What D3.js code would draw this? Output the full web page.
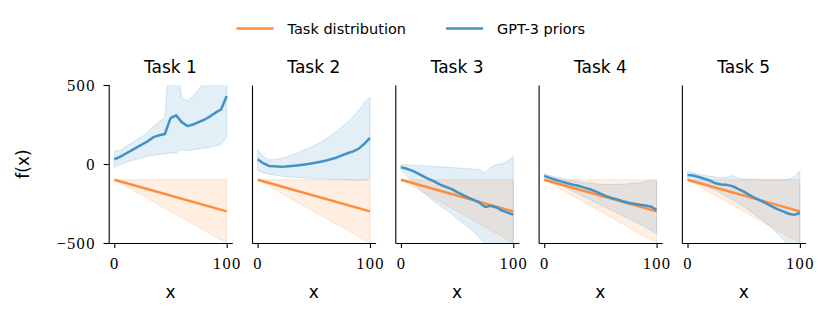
<!DOCTYPE html>
<html>
<head>
<meta charset="utf-8">
<script src="https://cdn.jsdelivr.net/npm/d3@7"></script>
<style>
  body { margin: 0; background: #fff; }
  svg { display: block; }
  .tick text { font-family: 'Liberation Serif', serif; font-size: 16.5px; letter-spacing: 1.3px; fill: #000; }
  .domain, .tick line { stroke: #000; stroke-width: 1.1; }
</style>
</head>
<body>
<svg id="canvas" width="830" height="320"></svg>
<script>
let taskNames = ['Task 1', 'Task 2', 'Task 3', 'Task 4', 'Task 5'];
let seriesNames = ['Task distribution', 'GPT-3 priors'];
let xTicks = [0, 100];
let yTicks = [-500, 0, 500];

// task distribution (same for every task)
let taskX = [0, 100];
let taskMean = [-100, -300];
let taskHi = [-100, -100];
let taskLo = [-100, -500];

// GPT-3 prior samples, read at x = 0, 5, ..., 100
let priorX = [0, 5, 10, 15, 20, 25, 30, 35, 40, 45, 50, 55, 60, 65, 70, 75, 80, 85, 90, 95, 100];

let mean1 = [30, 45, 65, 85, 105, 125, 145, 170, 182, 190, 290, 308, 265, 240, 250, 265, 280, 300, 325, 345, 430];
let hi1 = [80, 85, 110, 130, 155, 175, 200, 240, 270, 290, 750, 650, 420, 400, 430, 470, 520, 560, 600, 640, 680];
let lo1 = [-20, -5, 10, 20, 30, 40, 50, 55, 60, 65, 70, 70, 90, 85, 90, 95, 100, 105, 115, 125, 170];

let mean2 = [30, 5, -12, -15, -17, -16, -13, -9, -5, 0, 6, 13, 20, 30, 40, 55, 68, 80, 97, 128, 165];
let hi2 = [90, 50, 25, 28, 35, 45, 55, 70, 85, 100, 115, 135, 155, 180, 205, 235, 265, 300, 340, 390, 420];
let lo2 = [-40, -55, -65, -70, -75, -80, -83, -86, -88, -90, -92, -94, -95, -96, -97, -98, -100, -102, -105, -100, -95];

let mean3 = [-20, -30, -42, -60, -78, -95, -112, -130, -145, -158, -178, -195, -213, -228, -245, -272, -265, -275, -295, -308, -320];
let hi3 = [-5, -5, -8, -10, -12, -14, -16, -18, -20, -22, -25, -28, -30, -32, -35, -55, -20, -5, 0, 20, 45];
let lo3 = [-35, -75, -110, -145, -180, -210, -240, -265, -290, -315, -345, -375, -400, -430, -470, -505, -540, -570, -600, -630, -650];

let mean4 = [-75, -88, -100, -110, -120, -130, -138, -148, -158, -172, -188, -203, -215, -225, -236, -245, -252, -258, -263, -270, -292];
let hi4 = [-62, -72, -82, -90, -98, -105, -110, -115, -120, -125, -128, -130, -130, -130, -128, -125, -122, -118, -110, -105, -110];
let lo4 = [-90, -105, -120, -135, -152, -170, -187, -205, -222, -240, -258, -276, -293, -310, -328, -346, -363, -380, -398, -420, -440];

let mean5 = [-70, -73, -82, -93, -105, -122, -130, -132, -140, -158, -175, -195, -215, -232, -250, -268, -285, -300, -315, -322, -310];
let hi5 = [-48, -55, -65, -72, -78, -82, -85, -85, -72, -90, -95, -97, -98, -99, -100, -100, -100, -100, -98, -80, -45];
let lo5 = [-90, -105, -120, -135, -150, -168, -185, -205, -225, -248, -270, -295, -320, -345, -375, -405, -440, -475, -510, -540, -560];

let priorMeans = [mean1, mean2, mean3, mean4, mean5];
let priorHis = [hi1, hi2, hi3, hi4, hi5];
let priorLos = [lo1, lo2, lo3, lo4, lo5];

let orange = '#fd8d3c';
let blue = '#4292c6';

let canvas = d3.select('#canvas');

let panelLeft = 108.7;
let panelStep = 143.3;
let panelTop = 85;
let panelW = 123.6;
let panelH = 158;

let x = d3.scaleLinear().domain([-5, 105]).range([0, panelW]);
let y = d3.scaleLinear().domain([-500, 500]).range([panelH, 0]);

let drawPanel = (i) => {
  let g = canvas.append('g')
    .attr('transform', 'translate(' + (panelLeft + i * panelStep) + ',' + panelTop + ')');

  g.append('clipPath')
    .attr('id', 'clip' + i)
    .append('rect')
    .attr('width', panelW)
    .attr('height', panelH);

  let plot = g.append('g').attr('clip-path', 'url(#clip' + i + ')');

  let taskRows = taskX.map((v, k) => ({ x: v, m: taskMean[k], hi: taskHi[k], lo: taskLo[k] }));
  let priorRows = priorX.map((v, k) => ({ x: v, m: priorMeans[i][k], hi: priorHis[i][k], lo: priorLos[i][k] }));

  let band = d3.area().x((d) => x(d.x)).y0((d) => y(d.lo)).y1((d) => y(d.hi));
  let line = d3.line().x((d) => x(d.x)).y((d) => y(d.m));

  plot.append('path')
    .attr('d', band(taskRows))
    .attr('fill', orange)
    .attr('fill-opacity', 0.15)
    .attr('stroke', orange)
    .attr('stroke-opacity', 0.2)
    .attr('stroke-width', 1);

  plot.append('path')
    .attr('d', band(priorRows))
    .attr('fill', blue)
    .attr('fill-opacity', 0.15)
    .attr('stroke', blue)
    .attr('stroke-opacity', 0.2)
    .attr('stroke-width', 1);

  plot.append('path')
    .attr('d', line(taskRows))
    .attr('fill', 'none')
    .attr('stroke', orange)
    .attr('stroke-width', 2.5);

  plot.append('path')
    .attr('d', line(priorRows))
    .attr('fill', 'none')
    .attr('stroke', blue)
    .attr('stroke-width', 2.5)
    .attr('stroke-linejoin', 'round');

  // axes
  let xAxis = d3.axisBottom(x).tickValues(xTicks).tickSize(5).tickPadding(9).tickSizeOuter(0);
  g.append('g')
    .attr('transform', 'translate(0,' + panelH + ')')
    .call(xAxis);

  let yAxis = d3.axisLeft(y).tickValues(yTicks).tickSizeOuter(0);
  if (i === 0) {
    yAxis.tickSize(5).tickPadding(8).tickFormat((d) => (d < 0 ? '\u2212' + Math.abs(d) : d));
  } else {
    yAxis.tickSize(0).tickFormat('');
  }
  g.append('g').call(yAxis);

  g.append('text')
    .text(taskNames[i])
    .attr('x', panelW / 2)
    .attr('y', -12)
    .attr('text-anchor', 'middle')
    .style('font-family', 'DejaVu Sans')
    .style('font-size', '17px');

  g.append('text')
    .text('x')
    .attr('x', panelW / 2)
    .attr('y', panelH + 55)
    .attr('text-anchor', 'middle')
    .style('font-family', 'DejaVu Sans')
    .style('font-size', '17px');
};

taskNames.forEach((t, i) => drawPanel(i));

canvas.append('text')
  .text('f(x)')
  .attr('transform', 'translate(29,' + (panelTop + panelH / 2) + ') rotate(-90)')
  .attr('text-anchor', 'middle')
  .style('font-family', 'DejaVu Sans')
  .style('font-size', '17px');

// legend
let legendX = [236.5, 446];
let legend = canvas.selectAll('.legend')
  .data(seriesNames)
  .enter()
  .append('g')
  .attr('class', 'legend')
  .attr('transform', (d, k) => 'translate(' + legendX[k] + ',28.5)');

legend.append('line')
  .attr('x1', 0)
  .attr('x2', 37)
  .attr('stroke', (d, k) => (k === 0 ? orange : blue))
  .attr('stroke-width', 2.5);

legend.append('text')
  .text((d) => d)
  .attr('x', 51)
  .attr('y', 5)
  .style('font-family', 'DejaVu Sans')
  .style('font-size', '14.5px');
</script>
</body>
</html>
